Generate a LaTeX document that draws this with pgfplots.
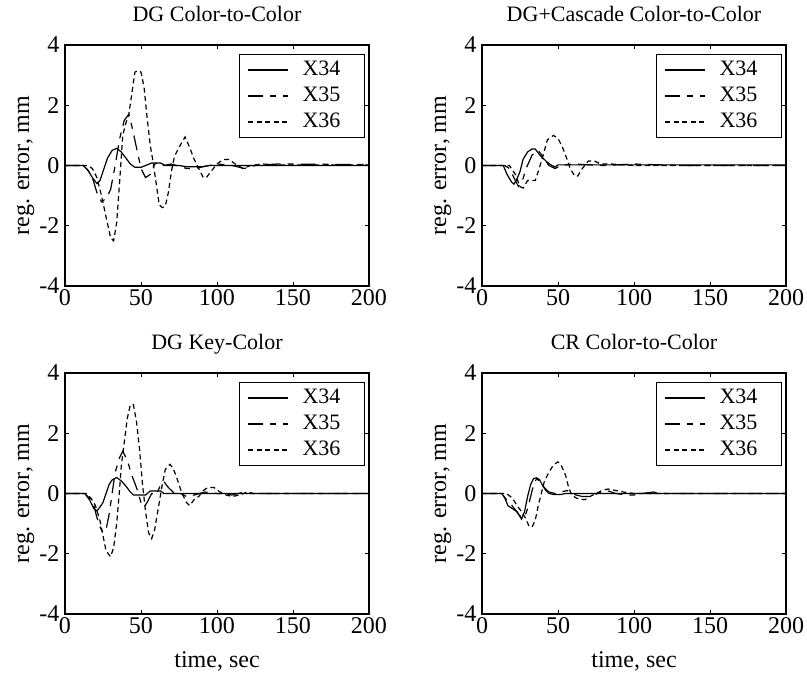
\documentclass[border=0pt]{standalone}
\usepackage{pgfplots}
\pgfplotsset{compat=1.18}
\usepackage{fontspec}
\setmainfont{Liberation Serif}
\newcommand{\ff}{\fontsize{22}{26}\selectfont}
\newcommand{\fl}{\fontsize{24}{28}\selectfont}
\pgfplotsset{
  myax/.style={
    scale only axis, width=304pt, height=241pt,
    xmin=0, xmax=200, ymin=-4, ymax=4,
    xtick={0,50,100,150,200}, ytick={-4,-2,0,2,4},
    xticklabels={0,50,100,150,200}, yticklabels={-4,-2,0,2,4},
    tick align=inside, major tick length=4pt,
    axis line style={line width=1.1pt, black},
    every tick/.style={black, line width=0.8pt},
    tick label style={font=\fl},
    yticklabel style={xshift=-2pt},
    xticklabel style={yshift=0pt},
    ylabel={reg. error, mm},
    ylabel style={font=\fl, at={(axis description cs:-0.118,0.5)}, anchor=base},
    title style={font=\ff, at={(axis description cs:0.5,1.073)}, anchor=base},
    xlabel style={font=\fl, at={(axis description cs:0.5,-0.22)}, anchor=base},
    legend style={at={(axis description cs:0.987,0.963)}, anchor=north east,
      draw=black, line width=1.1pt, fill=white, font=\ff,
      inner xsep=8pt, inner ysep=4pt, row sep=3pt, column sep=12pt,
      nodes={inner sep=2pt, text height=15pt, text depth=4pt}},
    legend cell align=left,
    legend image code/.code={\draw[#1] (0pt,0pt) -- (40pt,0pt);},
  },
  s34/.style={black, line width=1.2pt, solid},
  s35/.style={black, line width=1.2pt, dash pattern=on 15pt off 7pt on 6pt off 7pt},
  s36/.style={black, line width=1.2pt, dash pattern=on 5pt off 3.5pt},
}
\begin{document}
\begin{tikzpicture}
\path[use as bounding box] (0,0) rectangle (807pt,-675pt);
% Top left
\begin{axis}[myax, at={(65pt,-45pt)}, anchor=north west, title={DG Color-to-Color}]
\addplot[s34] coordinates {(0,0)(12,0)(15,-0.15)(18,-0.4)(21,-0.6)(23,-0.5)(25,-0.2)(28,0.25)(31,0.5)(34,0.57)(37,0.45)(40,0.25)(43,0.05)(46,-0.06)(50,-0.06)(53,0)(57,0.08)(63,0.08)(66,0)(75,0)(80,-0.04)(90,-0.04)(95,0)(200,0)};
\addlegendentry{X34\hspace*{14pt}}
\addplot[s35] coordinates {(0,0)(12,0)(15,-0.15)(18,-0.4)(21,-0.9)(24,-1.2)(27,-1.1)(30,-0.8)(33,0)(36,0.9)(39,1.5)(42,1.7)(44,1.3)(47,0.6)(50,-0.1)(53,-0.4)(56,-0.3)(59,0.05)(62,0.1)(65,0)(70,0.05)(80,-0.1)(85,-0.1)(90,-0.05)(100,0.05)(110,0)(118,-0.1)(125,0)(140,0.05)(200,0.03)};
\addlegendentry{X35}
\addplot[s36] coordinates {(0,0)(15,0)(18,-0.1)(21,-0.4)(24,-1.0)(27,-1.7)(30,-2.4)(32,-2.5)(34,-1.9)(36,-0.5)(38,1.0)(40,1.4)(42,1.7)(44,2.4)(46,3.1)(48,3.15)(50,3.1)(52,2.6)(54,1.6)(56,0.7)(58,0.1)(60,-0.6)(62,-1.3)(64,-1.4)(66,-1.35)(68,-0.9)(70,-0.2)(72,0.3)(75,0.6)(79,0.95)(82,0.6)(85,0.2)(88,-0.1)(91,-0.4)(93,-0.4)(96,-0.2)(100,0.05)(104,0.2)(108,0.2)(112,0.05)(117,-0.1)(122,0)(130,0.05)(140,0.02)(200,0.02)};
\addlegendentry{X36}
\end{axis}
% Top right
\begin{axis}[myax, at={(482pt,-45pt)}, anchor=north west, title={DG+Cascade Color-to-Color}]
\addplot[s34] coordinates {(0,0)(14,0)(16.5,-0.3)(19.5,-0.55)(21,-0.62)(23,-0.45)(25,-0.2)(27,0.2)(30,0.45)(33,0.55)(35,0.55)(38,0.35)(42,0.15)(45,0.03)(48,-0.05)(50,0.02)(200,0.02)};
\addlegendentry{X34\hspace*{14pt}}
\addplot[s35] coordinates {(0,0)(15,0)(18,-0.1)(21,-0.4)(24,-0.7)(26,-0.6)(29,-0.1)(33,0.35)(37,0.5)(40,0.3)(44,0)(48,-0.1)(52,0)(60,0.05)(80,0)(100,0.05)(130,0)(200,0)};
\addlegendentry{X35}
\addplot[s36] coordinates {(0,0)(18,0)(22,-0.3)(25,-0.7)(27,-0.75)(30,-0.5)(33,-0.5)(35,-0.5)(37,-0.2)(40,0.3)(43,0.85)(47,1.0)(50,0.9)(53,0.6)(56,0.2)(58,-0.1)(61,-0.35)(63,-0.35)(66,-0.1)(70,0.15)(74,0.15)(78,0.05)(85,0.05)(100,0)(200,0)};
\addlegendentry{X36}
\end{axis}
% Bottom left
\begin{axis}[myax, at={(65pt,-373pt)}, anchor=north west, title={DG Key-Color}, xlabel={time, sec}]
\addplot[s34] coordinates {(0,0)(13,0)(16,-0.2)(19,-0.5)(21,-0.58)(23,-0.45)(25,-0.3)(27,0)(29,0.3)(31,0.45)(34,0.53)(37,0.42)(40,0.25)(43,0.05)(45,-0.05)(53,-0.05)(56,0.08)(63,0.08)(65,0)(200,0)};
\addlegendentry{X34\hspace*{14pt}}
\addplot[s35] coordinates {(0,0)(13,0)(16,-0.15)(19,-0.4)(21,-0.8)(23,-1.1)(25,-1.3)(27,-1.2)(29,-0.7)(31,0)(33,0.7)(36,1.2)(38,1.4)(41,1.1)(44,0.6)(47,0.2)(50,-0.3)(52,-0.45)(54,-0.3)(57,0)(60,-0.05)(63,0.3)(65,0.4)(68,0.2)(72,0)(76,0)(80,-0.1)(85,-0.05)(92,0.05)(100,0)(110,-0.05)(118,0.05)(122,0)(200,0)};
\addlegendentry{X35}
\addplot[s36] coordinates {(0,0)(14,0)(17,-0.15)(20,-0.4)(23,-0.9)(25,-1.4)(27,-1.9)(30,-2.1)(32,-1.8)(34,-1.0)(36,0.2)(37,0.9)(39,1.7)(41,2.5)(43,2.95)(45,2.95)(47,2.4)(49,1.5)(51,0.3)(53,-0.6)(55,-1.3)(57,-1.5)(59,-1.2)(62,-0.3)(64,0.3)(66,0.8)(69,0.97)(71,0.85)(73,0.6)(75,0.3)(77,0)(80,-0.3)(82,-0.4)(85,-0.2)(88,-0.1)(91,0.1)(94,0.2)(98,0.2)(102,0.05)(106,-0.05)(110,-0.1)(115,-0.05)(120,0.05)(124,0)(200,0)};
\addlegendentry{X36}
\end{axis}
% Bottom right
\begin{axis}[myax, at={(482pt,-373pt)}, anchor=north west, title={CR Color-to-Color}, xlabel={time, sec}]
\addplot[s34] coordinates {(0,0)(13,0)(15,-0.15)(17,-0.4)(20,-0.5)(23,-0.6)(26,-0.85)(28,-0.6)(30,-0.1)(32,0.3)(34,0.5)(36,0.52)(38,0.45)(40,0.25)(42,0.1)(44,0)(47,-0.03)(52,-0.03)(55,0)(200,0)};
\addlegendentry{X34\hspace*{14pt}}
\addplot[s35] coordinates {(0,0)(13,0)(16,-0.2)(19,-0.35)(22,-0.55)(25,-0.75)(28,-0.8)(30,-0.5)(32,-0.1)(34,0.3)(36,0.5)(38,0.4)(41,0.2)(44,0.05)(48,0)(52,0.05)(56,0.1)(59,0.0)(62,-0.05)(66,-0.1)(70,-0.1)(74,-0.05)(78,0.05)(82,0.1)(88,0)(95,-0.05)(100,-0.05)(105,0)(113,0.05)(116,0)(200,0)};
\addlegendentry{X35}
\addplot[s36] coordinates {(0,0)(16,0)(20,-0.15)(23,-0.4)(26,-0.6)(29,-0.85)(31,-1.1)(33,-1.1)(35,-0.9)(37,-0.4)(39,0)(41,0.4)(44,0.7)(47,0.95)(50,1.05)(52,0.95)(55,0.6)(57,0.2)(59,-0.05)(62,-0.15)(65,-0.2)(68,-0.2)(71,-0.1)(75,0)(79,0.1)(83,0.15)(88,0.1)(93,0.05)(100,0)(200,0)};
\addlegendentry{X36}
\end{axis}
\end{tikzpicture}
\end{document}
